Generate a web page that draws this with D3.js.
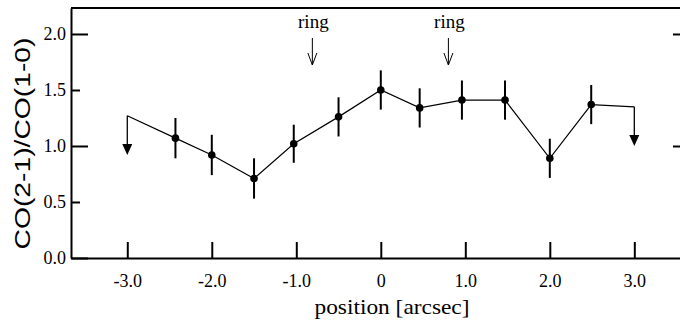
<!DOCTYPE html>
<html>
<head>
<meta charset="utf-8">
<script src="https://cdn.jsdelivr.net/npm/d3@7"></script>
<style>
  html, body { margin: 0; padding: 0; background: #fff; }
  svg { display: block; }
</style>
</head>
<body>
<svg id="chart" width="680" height="321"></svg>
<script>
// ---- data ----
const positions = [-2.43, -2.0, -1.5, -1.03, -0.5, 0.0, 0.46, 0.96, 1.47, 2.0, 2.49];
const ratios    = [1.07, 0.92, 0.71, 1.02, 1.26, 1.50, 1.34, 1.41, 1.41, 0.89, 1.37];
const errors    = [0.18, 0.18, 0.18, 0.17, 0.175, 0.175, 0.175, 0.175, 0.175, 0.175, 0.175];
const limitPositions = [-3.0, 3.0];
const limitValues    = [1.27, 1.35];
const limitArrowTips = [0.92, 1.0];
const ringPositions  = [-0.81, 0.80];
const ringLabel = "ring";
const xTickValues = [-3, -2, -1, 0, 1, 2, 3];
const xTickLabels = ["-3.0", "-2.0", "-1.0", "0", "1.0", "2.0", "3.0"];
const yTickValues = [0, 0.5, 1.0, 1.5, 2.0];
const yTickLabels = ["0.0", "0.5", "1.0", "1.5", "2.0"];
const yRightTicks = [1.0, 2.0];
const xTitle = "position [arcsec]";
const yTitle = "CO(2-1)/CO(1-0)";

// ---- layout ----
const svg = d3.select("#chart");
const x = d3.scaleLinear().domain([-3.666, 3.659]).range([71, 690]);
const y = d3.scaleLinear().domain([0, 2.232]).range([258, 8]);
const serif = "'Liberation Serif', 'Times New Roman', serif";
const sans = "'Liberation Sans', Arial, sans-serif";

// x axis
const xAxis = d3.axisBottom(x)
  .tickValues(xTickValues)
  .tickFormat((d, i) => xTickLabels[i])
  .tickSize(-16).tickSizeOuter(0).tickPadding(16);
const gx = svg.append("g").attr("transform", `translate(0,${y(0)})`).call(xAxis);
gx.select(".domain").attr("stroke", "#000").attr("stroke-width", 2);
gx.selectAll(".tick line").attr("stroke", "#000").attr("stroke-width", 2);
gx.selectAll(".tick text").attr("font-family", serif).attr("font-size", 18).attr("fill", "#000");

// y axis (left)
const yAxis = d3.axisLeft(y)
  .tickValues(yTickValues)
  .tickFormat((d, i) => yTickLabels[i])
  .tickSize(-17).tickSizeOuter(0).tickPadding(5);
const gy = svg.append("g").attr("transform", `translate(${x.range()[0]},0)`).call(yAxis);
gy.select(".domain").attr("stroke", "#000").attr("stroke-width", 2);
gy.selectAll(".tick line").attr("stroke", "#000").attr("stroke-width", 2)
  .attr("x2", d => (Math.abs(d - Math.round(d)) < 1e-6 ? 17 : 9));
gy.selectAll(".tick text").attr("font-family", serif).attr("font-size", 18).attr("fill", "#000");

// right axis (ticks only)
const yRight = d3.axisRight(y).tickValues(yRightTicks).tickFormat("").tickSize(-17).tickSizeOuter(0);
const gr = svg.append("g").attr("transform", `translate(${x.range()[1]},0)`).call(yRight);
gr.select(".domain").attr("stroke", "#000").attr("stroke-width", 2);
gr.selectAll(".tick line").attr("stroke", "#000").attr("stroke-width", 2);

// top frame
svg.append("line")
  .attr("x1", x.range()[0]).attr("x2", x.range()[1])
  .attr("y1", y(y.domain()[1])).attr("y2", y(y.domain()[1]))
  .attr("stroke", "#000").attr("stroke-width", 2.2);

// connecting line (limits + points)
const linePts = [[limitPositions[0], limitValues[0]]]
  .concat(positions.map((p, i) => [p, ratios[i]]))
  .concat([[limitPositions[1], limitValues[1]]]);
svg.append("path")
  .datum(linePts)
  .attr("d", d3.line().x(d => x(d[0])).y(d => y(d[1])))
  .attr("fill", "none").attr("stroke", "#000").attr("stroke-width", 1.2);

// error bars
svg.append("g").selectAll("line").data(positions).join("line")
  .attr("x1", d => x(d)).attr("x2", d => x(d))
  .attr("y1", (d, i) => y(ratios[i] + errors[i]))
  .attr("y2", (d, i) => y(ratios[i] - errors[i]))
  .attr("stroke", "#000").attr("stroke-width", 2);

// points
svg.append("g").selectAll("circle").data(positions).join("circle")
  .attr("cx", d => x(d)).attr("cy", (d, i) => y(ratios[i]))
  .attr("r", 3.8).attr("fill", "#000");

// upper limit arrows
limitPositions.forEach((p, i) => {
  const px = x(p), top = y(limitValues[i]), tip = y(limitArrowTips[i]);
  svg.append("line").attr("x1", px).attr("x2", px).attr("y1", top).attr("y2", tip - 8)
    .attr("stroke", "#000").attr("stroke-width", 1.3);
  svg.append("path")
    .attr("d", `M${px - 5},${tip - 11} L${px + 5},${tip - 11} L${px},${tip} Z`)
    .attr("fill", "#000");
});

// ring annotations
ringPositions.forEach(p => {
  const px = x(p);
  svg.append("text").attr("x", px + 1).attr("y", 28)
    .attr("text-anchor", "middle").attr("font-family", serif).attr("font-size", 19)
    .attr("fill", "#000").text(ringLabel);
  svg.append("line").attr("x1", px).attr("x2", px).attr("y1", 38).attr("y2", 65)
    .attr("stroke", "#000").attr("stroke-width", 1);
  svg.append("path").attr("d", `M${px - 4.5},${53} L${px},${65} L${px + 4.5},${53}`)
    .attr("fill", "none").attr("stroke", "#000").attr("stroke-width", 1);
});

// axis titles
svg.append("text").attr("x", 392).attr("y", 314)
  .attr("text-anchor", "middle").attr("font-family", serif).attr("font-size", 22)
  .attr("textLength", 155).attr("lengthAdjust", "spacingAndGlyphs")
  .attr("fill", "#000").text(xTitle);
svg.append("text")
  .attr("transform", "translate(30,143.5) rotate(-90)")
  .attr("text-anchor", "middle").attr("font-family", sans).attr("font-size", 22)
  .attr("textLength", 212).attr("lengthAdjust", "spacingAndGlyphs")
  .attr("fill", "#000").text(yTitle);
</script>
</body>
</html>
